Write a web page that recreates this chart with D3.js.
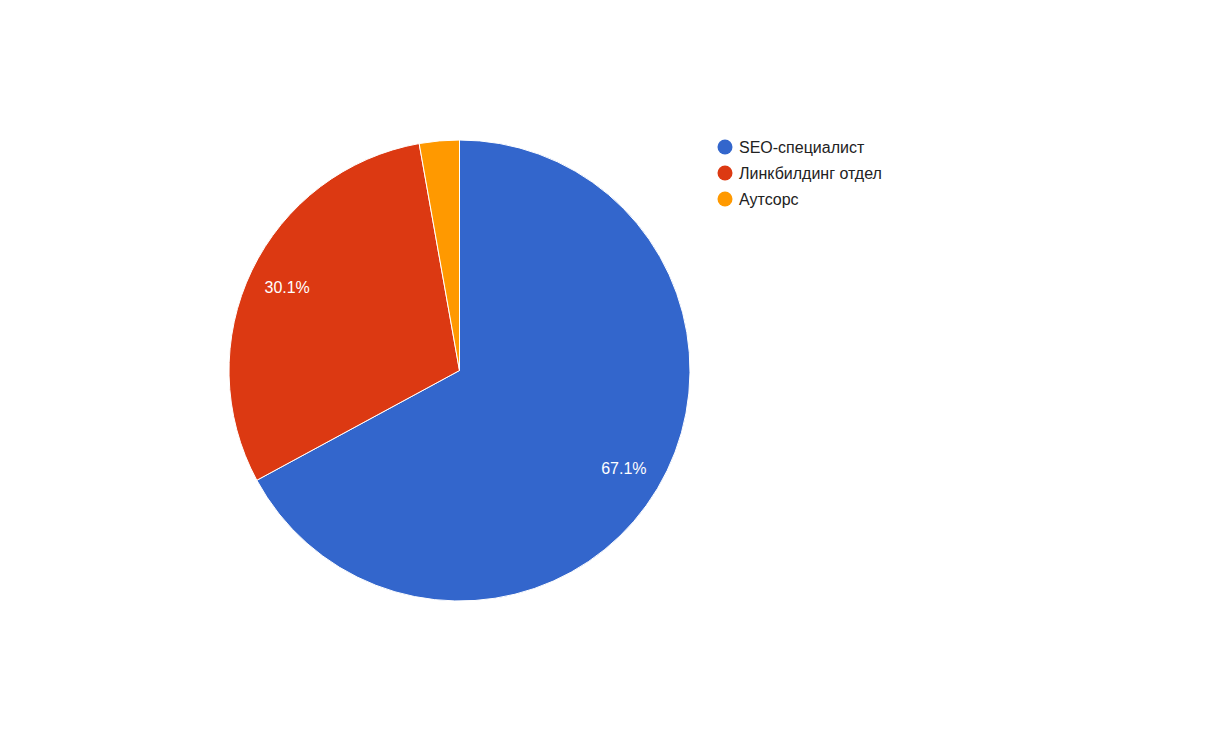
<!DOCTYPE html>
<html>
<head>
<meta charset="utf-8">
<script src="https://cdn.jsdelivr.net/npm/d3@7"></script>
<style>
  html, body { margin: 0; padding: 0; background: #fff; }
  svg { display: block; }
</style>
</head>
<body>
<svg id="chart" width="1206" height="741"></svg>
<script>
const categories = ["SEO-специалист", "Линкбилдинг отдел", "Аутсорс"];
const values = [67.1, 30.1, 2.8];
const colors = ["#3366cc", "#dc3912", "#ff9900"];

const svg = d3.select("#chart");
const cx = 459.5, cy = 370.5, r = 230.5;

const pie = d3.pie().sort(null).value(d => d)(values);
const arc = d3.arc().innerRadius(0).outerRadius(r);
const labelArc = d3.arc().innerRadius(r * 0.83).outerRadius(r * 0.83);

const g = svg.append("g").attr("transform", `translate(${cx},${cy})`);
g.selectAll("path").data(pie).join("path")
  .attr("d", arc)
  .attr("fill", (d, i) => colors[i])
  .attr("stroke", "#fff")
  .attr("stroke-width", 1);

const total = d3.sum(values);
g.selectAll("text").data(pie.filter(d => d.value / total > 0.05)).join("text")
  .attr("transform", d => `translate(${labelArc.centroid(d)})`)
  .attr("text-anchor", "middle")
  .attr("dy", "0.36em")
  .attr("fill", "#fff")
  .style("font-family", "Arial, 'Liberation Sans', sans-serif")
  .style("font-size", "16px")
  .text(d => (d.value / total * 100).toFixed(1) + "%");

const legend = svg.append("g").attr("transform", "translate(725,147)");
const items = legend.selectAll("g").data(categories).join("g")
  .attr("transform", (d, i) => `translate(0,${i * 26})`);
items.append("circle").attr("r", 7.5).attr("fill", (d, i) => colors[i]);
items.append("text")
  .attr("x", 14)
  .attr("dy", "0.36em")
  .attr("fill", "#222")
  .style("font-family", "Arial, 'Liberation Sans', sans-serif")
  .style("font-size", "16px")
  .text(d => d);
</script>
</body>
</html>
